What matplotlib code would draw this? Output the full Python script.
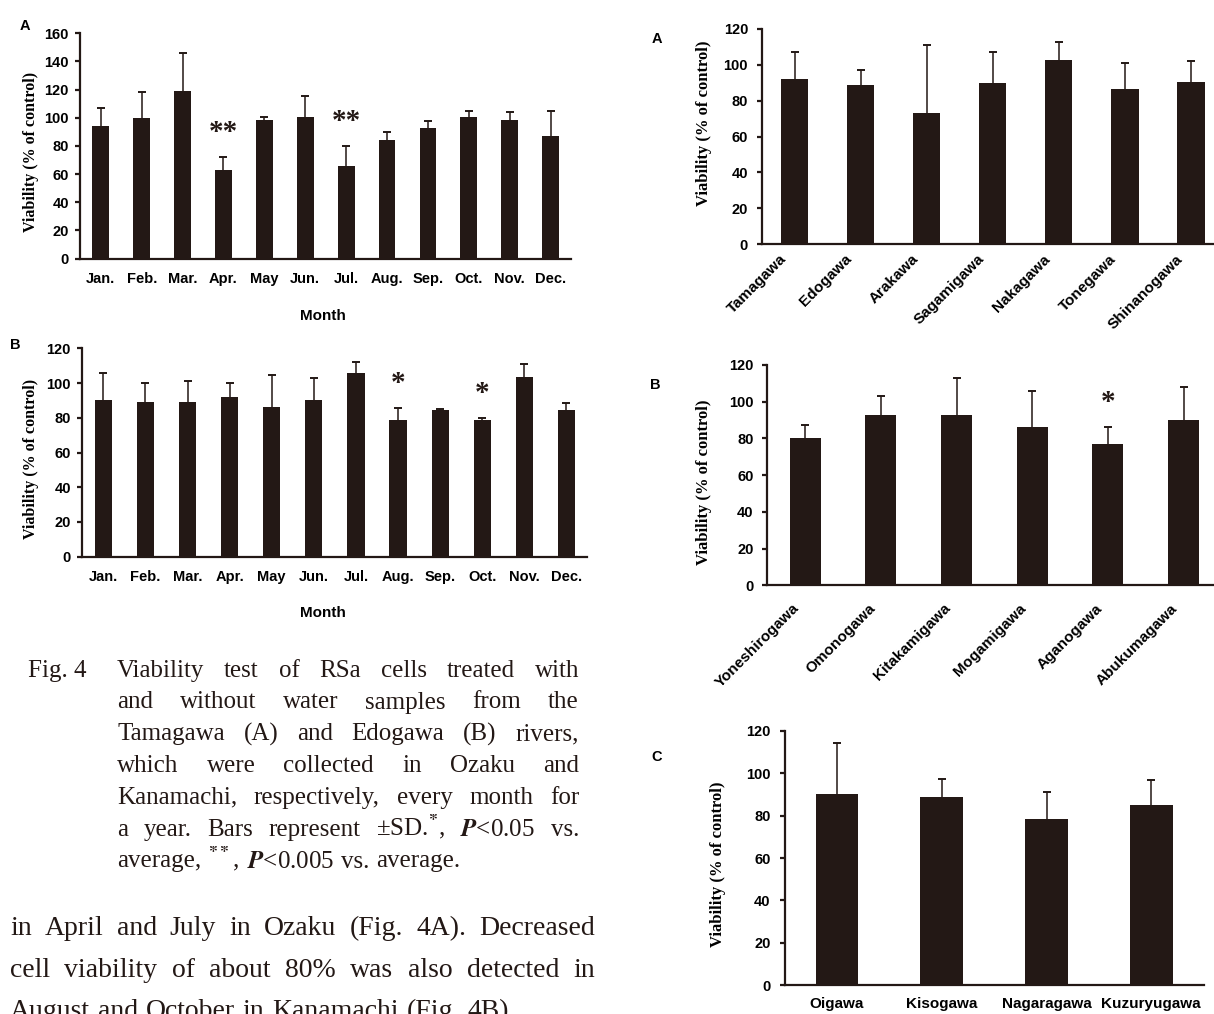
#!/usr/bin/env python3

import numpy as np
import matplotlib
matplotlib.use('Agg')
import matplotlib.pyplot as plt

#-------------------------------------------------------------------------------

months = ['Jan.', 'Feb.', 'Mar.', 'Apr.', 'May', 'Jun.',
          'Jul.', 'Aug.', 'Sep.', 'Oct.', 'Nov.', 'Dec.']

ozaku_mean = [94, 100, 119, 63, 98.5, 100.5, 66, 84.5, 93, 100.5, 98.5, 87]
ozaku_sd = [13, 18, 27, 9, 2, 15, 14, 5.5, 4.5, 4, 5.5, 18]
ozaku_sig = ['', '', '', '**', '', '', '**', '', '', '', '', '']

kanamachi_mean = [90, 89, 89, 92, 86, 90.5, 105.5, 78.5, 84.5, 78.5, 103.5, 84.5]
kanamachi_sd = [16, 11, 12, 8, 18.5, 12.5, 6.5, 7, 0.5, 1.5, 7.5, 4]
kanamachi_sig = ['', '', '', '', '', '', '', '*', '', '*', '', '']

rivers_a = ['Tamagawa', 'Edogawa', 'Arakawa', 'Sagamigawa',
            'Nakagawa', 'Tonegawa', 'Shinanogawa']
rivers_a_mean = [92, 88.7, 73, 90, 102.6, 86.5, 90.6]
rivers_a_sd = [15.4, 8.3, 38.3, 17, 10.2, 14.5, 11.3]

rivers_b = ['Yoneshirogawa', 'Omonogawa', 'Kitakamigawa',
            'Mogamigawa', 'Aganogawa', 'Abukumagawa']
rivers_b_mean = [80, 93, 93, 86, 76.8, 90]
rivers_b_sd = [7.5, 10.3, 20, 19.6, 9.4, 18.2]
rivers_b_sig = ['', '', '', '', '*', '']

rivers_c = ['Oigawa', 'Kisogawa', 'Nagaragawa', 'Kuzuryugawa']
rivers_c_mean = [90.2, 88.6, 78.2, 85]
rivers_c_sd = [24, 8.8, 12.9, 11.7]

caption = ['Viability test of RSa cells treated with',
           'and without water samples from the',
           'Tamagawa (A) and Edogawa (B) rivers,',
           'which were collected in Ozaku and',
           'Kanamachi, respectively, every month for',
           'a year. Bars represent \u00b1SD.$^{*}$, $P$<0.05 vs.',
           'average, $^{**}$, $P$<0.005 vs. average.']

body = ['in April and July in Ozaku (Fig. 4A). Decreased',
        'cell viability of about 80% was also detected in',
        'August and October in Kanamachi (Fig. 4B).']

#-------------------------------------------------------------------------------

W, H = 1214, 1014
BAR = '#231815'
SERIF = ['Liberation Serif', 'DejaVu Serif']

plt.rcParams['font.family'] = ['Liberation Sans', 'DejaVu Sans']
plt.rcParams['font.weight'] = 'bold'
plt.rcParams['mathtext.fontset'] = 'stix'

fig = plt.figure(figsize=(W / 100, H / 100), dpi=100)


def px_axes(l, r, t, b):
    return fig.add_axes([l / W, 1 - b / H, (r - l) / W, (b - t) / H])


def bar_panel(ax, means, sds, marks, ymax, tick_size, ypad):
    x = np.arange(len(means))
    bars = ax.bar(x, means, 0.41, color=BAR, zorder=2,
                  yerr=[np.zeros(len(sds)), sds],
                  error_kw=dict(ecolor=BAR, elinewidth=1.1, capsize=3, capthick=1.4))
    # only the upper cap is drawn in the original
    bars.errorbar.lines[1][0].set_visible(False)
    for i, m in enumerate(marks):
        if m:
            ax.annotate(m, xy=(i, means[i] + sds[i]), xytext=(0, 17),
                        textcoords='offset pixels', ha='center', va='baseline',
                        fontsize=21, family='Liberation Serif', color=BAR)
    ax.set_xlim(-0.5, len(means) - 0.5)
    ax.set_ylim(0, ymax)
    ax.set_yticks(np.arange(0, ymax + 1, 20))
    for s in ['top', 'right']:
        ax.spines[s].set_visible(False)
    for s in ['left', 'bottom']:
        ax.spines[s].set_linewidth(1.6)
        ax.spines[s].set_color(BAR)
    ax.tick_params(axis='y', direction='out', length=3.5, width=1.6,
                   pad=ypad, labelsize=tick_size, color=BAR)
    ax.tick_params(axis='x', length=0)
    return x


def ylabel(x, y, size):
    fig.text(x / W, 1 - y / H, 'Viability (% of control)', rotation=90,
             ha='center', va='center', family='Liberation Serif',
             weight='bold', size=size)


def letter(x, y, s):
    fig.text(x / W, 1 - y / H, s, ha='center', va='center', size=10.5)


def slanted(ax, x, names, dx, dy):
    ax.set_xticks(x, [''] * len(x))
    for i, n in zip(x, names):
        ax.annotate(n, xy=(i, 0), xycoords=('data', 'axes fraction'),
                    xytext=(dx, dy), textcoords='offset pixels', rotation=45,
                    rotation_mode='anchor', ha='right', va='center', size=11)

#-------------------------------------------------------------------------------
# monthly panels (left)

ax = px_axes(80.4, 571, 33.3, 258.5)
x = bar_panel(ax, ozaku_mean, ozaku_sd, ozaku_sig, 160, 10.5, 4.8)
ax.set_xticks(x, months)
ax.tick_params(axis='x', pad=10, labelsize=10.5)
ylabel(30.6, 152, 11.5)
fig.text(322.6 / W, 1 - 316 / H, 'Month', ha='center', va='center', size=11)
letter(25, 26, 'A')

ax = px_axes(82.3, 587.5, 348.3, 556.7)
x = bar_panel(ax, kanamachi_mean, kanamachi_sd, kanamachi_sig, 120, 10.5, 4.8)
ax.set_xticks(x, months)
ax.tick_params(axis='x', pad=9.3, labelsize=10.5)
ylabel(30.6, 459, 11.5)
fig.text(322.6 / W, 1 - 613 / H, 'Month', ha='center', va='center', size=11)
letter(15.3, 345, 'B')

#-------------------------------------------------------------------------------
# river panels (right)

ax = px_axes(761.9, 1224, 29, 244)
x = bar_panel(ax, rivers_a_mean, rivers_a_sd, [''] * 7, 120, 10.5, 6.5)
slanted(ax, x, rivers_a, -11, -13)
ylabel(704, 123, 12)
letter(656.5, 39.3, 'A')

ax = px_axes(767.4, 1221.4, 365, 585.3)
x = bar_panel(ax, rivers_b_mean, rivers_b_sd, rivers_b_sig, 120, 10.5, 6.5)
slanted(ax, x, rivers_b, -8, -21)
ylabel(704, 482, 12)
letter(655.7, 385, 'B')

ax = px_axes(784.6, 1203.7, 730.7, 985.3)
x = bar_panel(ax, rivers_c_mean, rivers_c_sd, [''] * 4, 120, 10.5, 6.5)
ax.set_xticks(x, rivers_c)
ax.tick_params(axis='x', pad=8.6, labelsize=11)
ylabel(717.6, 864, 12)
letter(656.5, 756.7, 'C')

#-------------------------------------------------------------------------------
# caption and running text, justified word by word

renderer = fig.canvas.get_renderer()


def put_line(line, x0, x1, yb, size, justify=True):
    words = line.split(' ')
    arts = [fig.text(0, 0, w, family=SERIF, weight='normal', size=size,
                     ha='left', va='baseline', color='#231815') for w in words]
    widths = [a.get_window_extent(renderer).width for a in arts]
    if justify and len(words) > 1:
        gap = (x1 - x0 - sum(widths)) / (len(words) - 1)
    else:
        gap = size * 0.28 * 100 / 72
    xx = x0
    for a, w in zip(arts, widths):
        a.set_position((xx / W, 1 - yb / H))
        xx += w + gap


fig.text(28 / W, 1 - 676.7 / H, 'Fig. 4', family=SERIF, weight='normal',
         size=18, ha='left', va='baseline', color='#231815')
for i, line in enumerate(caption):
    put_line(line, 117, 579, 676.7 + i * 31.8, 18, i < len(caption) - 1)

for i, line in enumerate(body):
    put_line(line, 10, 595, 935 + i * 41.7, 20, i < len(body) - 1)

fig.savefig('out.png', dpi=100)
